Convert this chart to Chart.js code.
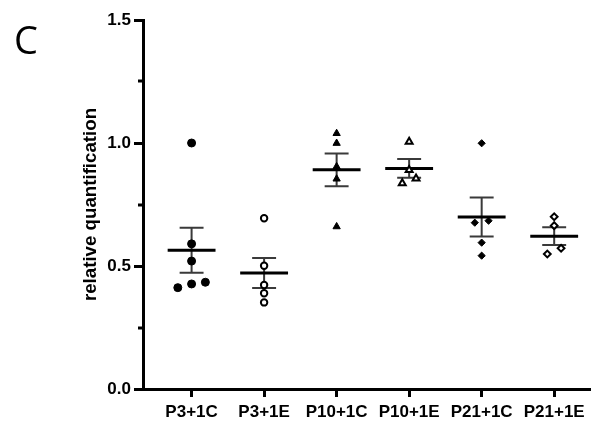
<!DOCTYPE html>
<html>
<head>
<meta charset="utf-8">
<script src="https://cdn.jsdelivr.net/npm/chart.js@4"></script>
<style>
  body { margin: 0; background: #fff; }
  #wrap { position: relative; width: 595px; height: 421px; }
  #panel { position: absolute; left: 14px; top: 20px; font: 38px "Open Sans", sans-serif; line-height: 38px; color: #000; }
</style>
</head>
<body>
<div id="wrap">
  <canvas id="chart" width="595" height="421"></canvas>
  <div id="panel">C</div>
</div>
<script>
// groups and measured values
const groups = ['P3+1C', 'P3+1E', 'P10+1C', 'P10+1E', 'P21+1C', 'P21+1E'];
const p3c  = [1.0, 0.59, 0.52, 0.434, 0.427, 0.412];
const p3e  = [0.694, 0.501, 0.423, 0.389, 0.352];
const p10c = [1.039, 0.999, 0.904, 0.854, 0.66];
const p10e = [1.005, 0.89, 0.856, 0.836];
const p21c = [0.999, 0.684, 0.676, 0.595, 0.542];
const p21e = [0.70, 0.664, 0.572, 0.549];
const yTicks = [0, 0.5, 1.0, 1.5];
const yMinor = [0.25, 0.75, 1.25];

const series = [p3c, p3e, p10c, p10e, p21c, p21e];
const styles = [
    { pointStyle: 'circle',   radius: 4,   fill: true },
    { pointStyle: 'circle',   radius: 3.2, fill: false },
    { pointStyle: 'triangle', radius: 4.2, fill: true },
    { pointStyle: 'triangle', radius: 4,   fill: false },
    { pointStyle: 'rectRot',  radius: 3.6, fill: true },
    { pointStyle: 'rectRot',  radius: 3.4, fill: false }
];

// spread points with nearly equal values sideways (like a scatter dot plot)
function spread(vals, gi) {
    const sorted = vals.slice().sort((a, b) => a - b);
    const pts = [];
    let cluster = [sorted[0]];
    const flush = () => {
        cluster.forEach((v, k) => pts.push({ x: gi + (k - (cluster.length - 1) / 2) * 0.19, y: v }));
    };
    for (let i = 1; i < sorted.length; i++) {
        if (sorted[i] - cluster[cluster.length - 1] < 0.03) cluster.push(sorted[i]);
        else { flush(); cluster = [sorted[i]]; }
    }
    flush();
    return pts;
}

function meanOf(a) { return a.reduce((s, v) => s + v, 0) / a.length; }
function semOf(a) {
    const m = meanOf(a);
    const sd = Math.sqrt(a.reduce((s, v) => s + (v - m) * (v - m), 0) / (a.length - 1));
    return sd / Math.sqrt(a.length);
}

const meanSeg = [], stemSeg = [], capSeg = [];
series.forEach((vals, i) => {
    const m = meanOf(vals), e = semOf(vals);
    meanSeg.push({ x: i - 0.33, y: m }, { x: i + 0.33, y: m }, { x: i, y: null });
    stemSeg.push({ x: i, y: m - e }, { x: i, y: m + e }, { x: i, y: null });
    capSeg.push({ x: i - 0.165, y: m + e }, { x: i + 0.165, y: m + e }, { x: i, y: null });
    capSeg.push({ x: i - 0.165, y: m - e }, { x: i + 0.165, y: m - e }, { x: i, y: null });
});

const datasets = series.map((vals, i) => ({
    type: 'scatter',
    data: spread(vals, i),
    pointStyle: styles[i].pointStyle,
    pointRadius: styles[i].radius,
    pointBorderWidth: styles[i].fill ? 1 : 2,
    pointBorderColor: '#000',
    pointBackgroundColor: styles[i].fill ? '#000' : '#fff',
    order: 0
}));
datasets.push(
    { type: 'line', data: meanSeg, borderColor: '#000', borderWidth: 3, pointRadius: 0, spanGaps: false, order: 1 },
    { type: 'line', data: stemSeg, borderColor: '#3a3a3a', borderWidth: 2, pointRadius: 0, spanGaps: false, order: 1 },
    { type: 'line', data: capSeg, borderColor: '#3a3a3a', borderWidth: 2, pointRadius: 0, spanGaps: false, order: 1 }
);

// short minor ticks on the y axis
const minorTicks = {
    id: 'minorTicks',
    afterDraw(chart) {
        const y = chart.scales.y, ctx = chart.ctx;
        ctx.save();
        ctx.strokeStyle = '#000';
        ctx.lineWidth = 3;
        yMinor.forEach(v => {
            const py = Math.round(y.getPixelForValue(v));
            ctx.beginPath();
            ctx.moveTo(chart.chartArea.left - 5, py);
            ctx.lineTo(chart.chartArea.left, py);
            ctx.stroke();
        });
        ctx.restore();
    }
};

const font = 'Liberation Sans, Arial, sans-serif';

new Chart(document.getElementById('chart'), {
    data: { datasets },
    options: {
        responsive: false,
        animation: false,
        devicePixelRatio: 1,
        layout: { padding: { left: 0, top: 20, right: 3, bottom: 0 } },
        plugins: { legend: { display: false }, tooltip: { enabled: false } },
        scales: {
            x: {
                type: 'linear',
                min: -0.67,
                max: 5.48,
                afterBuildTicks: s => { s.ticks = groups.map((g, i) => ({ value: i })); },
                afterFit: s => { s.height = 32; },
                border: { display: true, width: 3, color: '#000' },
                grid: { drawOnChartArea: false, drawTicks: true, tickLength: 8, lineWidth: 3, tickColor: '#000' },
                ticks: {
                    autoSkip: false, maxRotation: 0, padding: 5, color: '#000',
                    font: { family: font, size: 17, weight: 'bold' },
                    callback: v => groups[v]
                }
            },
            y: {
                min: 0,
                max: 1.5,
                afterBuildTicks: s => { s.ticks = yTicks.map(v => ({ value: v })); },
                afterFit: s => { s.width = 143; },
                border: { display: true, width: 3, color: '#000' },
                grid: { drawOnChartArea: false, drawTicks: true, tickLength: 9, lineWidth: 3, tickColor: '#000' },
                ticks: {
                    padding: 3, color: '#000',
                    font: { family: font, size: 17, weight: 'bold' },
                    callback: v => v.toFixed(1)
                },
                title: {
                    display: true,
                    text: 'relative quantification',
                    color: '#000',
                    padding: { top: 80, bottom: 0 },
                    font: { family: font, size: 18.7, weight: 'bold' }
                }
            }
        }
    },
    plugins: [minorTicks]
});
</script>
</body>
</html>
